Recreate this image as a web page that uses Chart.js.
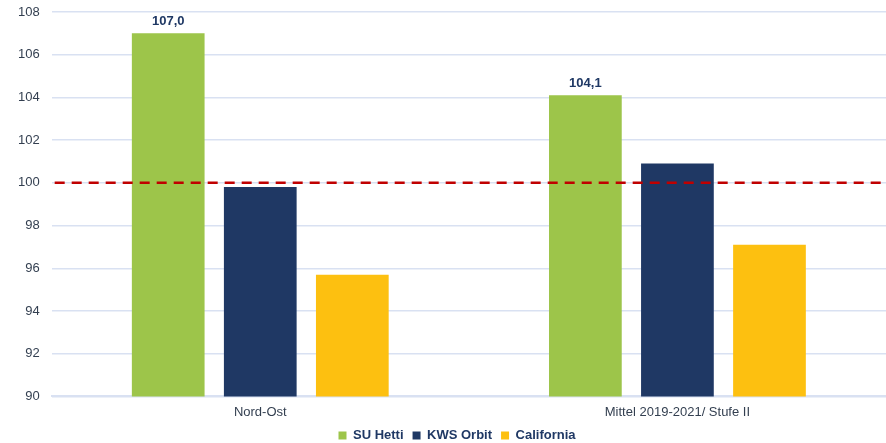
<!DOCTYPE html>
<html>
<head>
<meta charset="utf-8">
<script src="https://cdn.jsdelivr.net/npm/chart.js@4/dist/chart.umd.min.js"></script>
<style>
  html, body { margin: 0; padding: 0; background: #fff; }
  #wrap { width: 886px; height: 443px; }
</style>
</head>
<body>
<div id="wrap"><canvas id="chart" width="886" height="443"></canvas></div>
<script>
// Data
const categories = ["Nord-Ost", "Mittel 2019-2021/ Stufe II"];
const suHetti = [107.0, 104.1];
const kwsOrbit = [99.8, 100.9];
const california = [95.7, 97.1];
const referenceLine = 100;

// draws the red dashed line at 100
const refLinePlugin = {
  id: "refLine",
  afterDatasetsDraw(chart) {
    const { ctx, chartArea, scales } = chart;
    const y = scales.y.getPixelForValue(referenceLine);
    ctx.save();
    ctx.strokeStyle = "#C00000";
    ctx.lineWidth = 2.5;
    ctx.setLineDash([10, 7]);
    ctx.beginPath();
    ctx.moveTo(chartArea.left + 3, y);
    ctx.lineTo(chartArea.right, y);
    ctx.stroke();
    ctx.restore();
  }
};

// value labels above the green bars only
const labelPlugin = {
  id: "barLabels",
  afterDatasetsDraw(chart) {
    const { ctx } = chart;
    const meta = chart.getDatasetMeta(0);
    ctx.save();
    ctx.font = "bold 13px 'Liberation Sans', Arial, sans-serif";
    ctx.fillStyle = "#1F3864";
    ctx.textAlign = "center";
    ctx.textBaseline = "bottom";
    meta.data.forEach((bar, i) => {
      const v = chart.data.datasets[0].data[i];
      ctx.fillText(v.toFixed(1).replace(".", ","), bar.x, bar.y - 5);
    });
    ctx.restore();
  }
};

// legend sits a bit right of centre in the original
const legendShift = {
  id: "legendShift",
  afterLayout(chart) {
    chart.legend.left += 11;
    chart.legend.right += 11;
  }
};

const ctx = document.getElementById("chart").getContext("2d");
new Chart(ctx, {
  type: "bar",
  data: {
    labels: categories,
    datasets: [
      { label: "SU Hetti", data: suHetti, backgroundColor: "#9DC54A" },
      { label: "KWS Orbit", data: kwsOrbit, backgroundColor: "#1F3864" },
      { label: "California", data: california, backgroundColor: "#FDC010" }
    ]
  },
  options: {
    responsive: false,
    animation: false,
    layout: { padding: { top: 12, right: 0, left: 6, bottom: -9 } },
    datasets: {
      bar: { categoryPercentage: 0.662, barPercentage: 0.79 }
    },
    scales: {
      x: {
        grid: { display: false },
        border: { color: "#D9E1F2", width: 2 },
        ticks: {
          color: "#333F50",
          font: { family: "'Liberation Sans', Arial, sans-serif", size: 13 },
          padding: 0
        }
      },
      y: {
        min: 90,
        max: 108,
        afterFit(scale) { scale.paddingTop = 0; },
        ticks: {
          stepSize: 2,
          color: "#333F50",
          font: { family: "'Liberation Sans', Arial, sans-serif", size: 13 },
          padding: 12
        },
        grid: { color: "#D9E1F2", lineWidth: 1.5, drawTicks: false },
        border: { display: false }
      }
    },
    plugins: {
      legend: {
        position: "bottom",
        labels: {
          boxWidth: 8,
          boxHeight: 8,
          padding: 9,
          color: "#1F3864",
          font: { family: "'Liberation Sans', Arial, sans-serif", size: 13, weight: "bold" }
        }
      },
      tooltip: { enabled: false }
    }
  },
  plugins: [refLinePlugin, labelPlugin, legendShift]
});
</script>
</body>
</html>
